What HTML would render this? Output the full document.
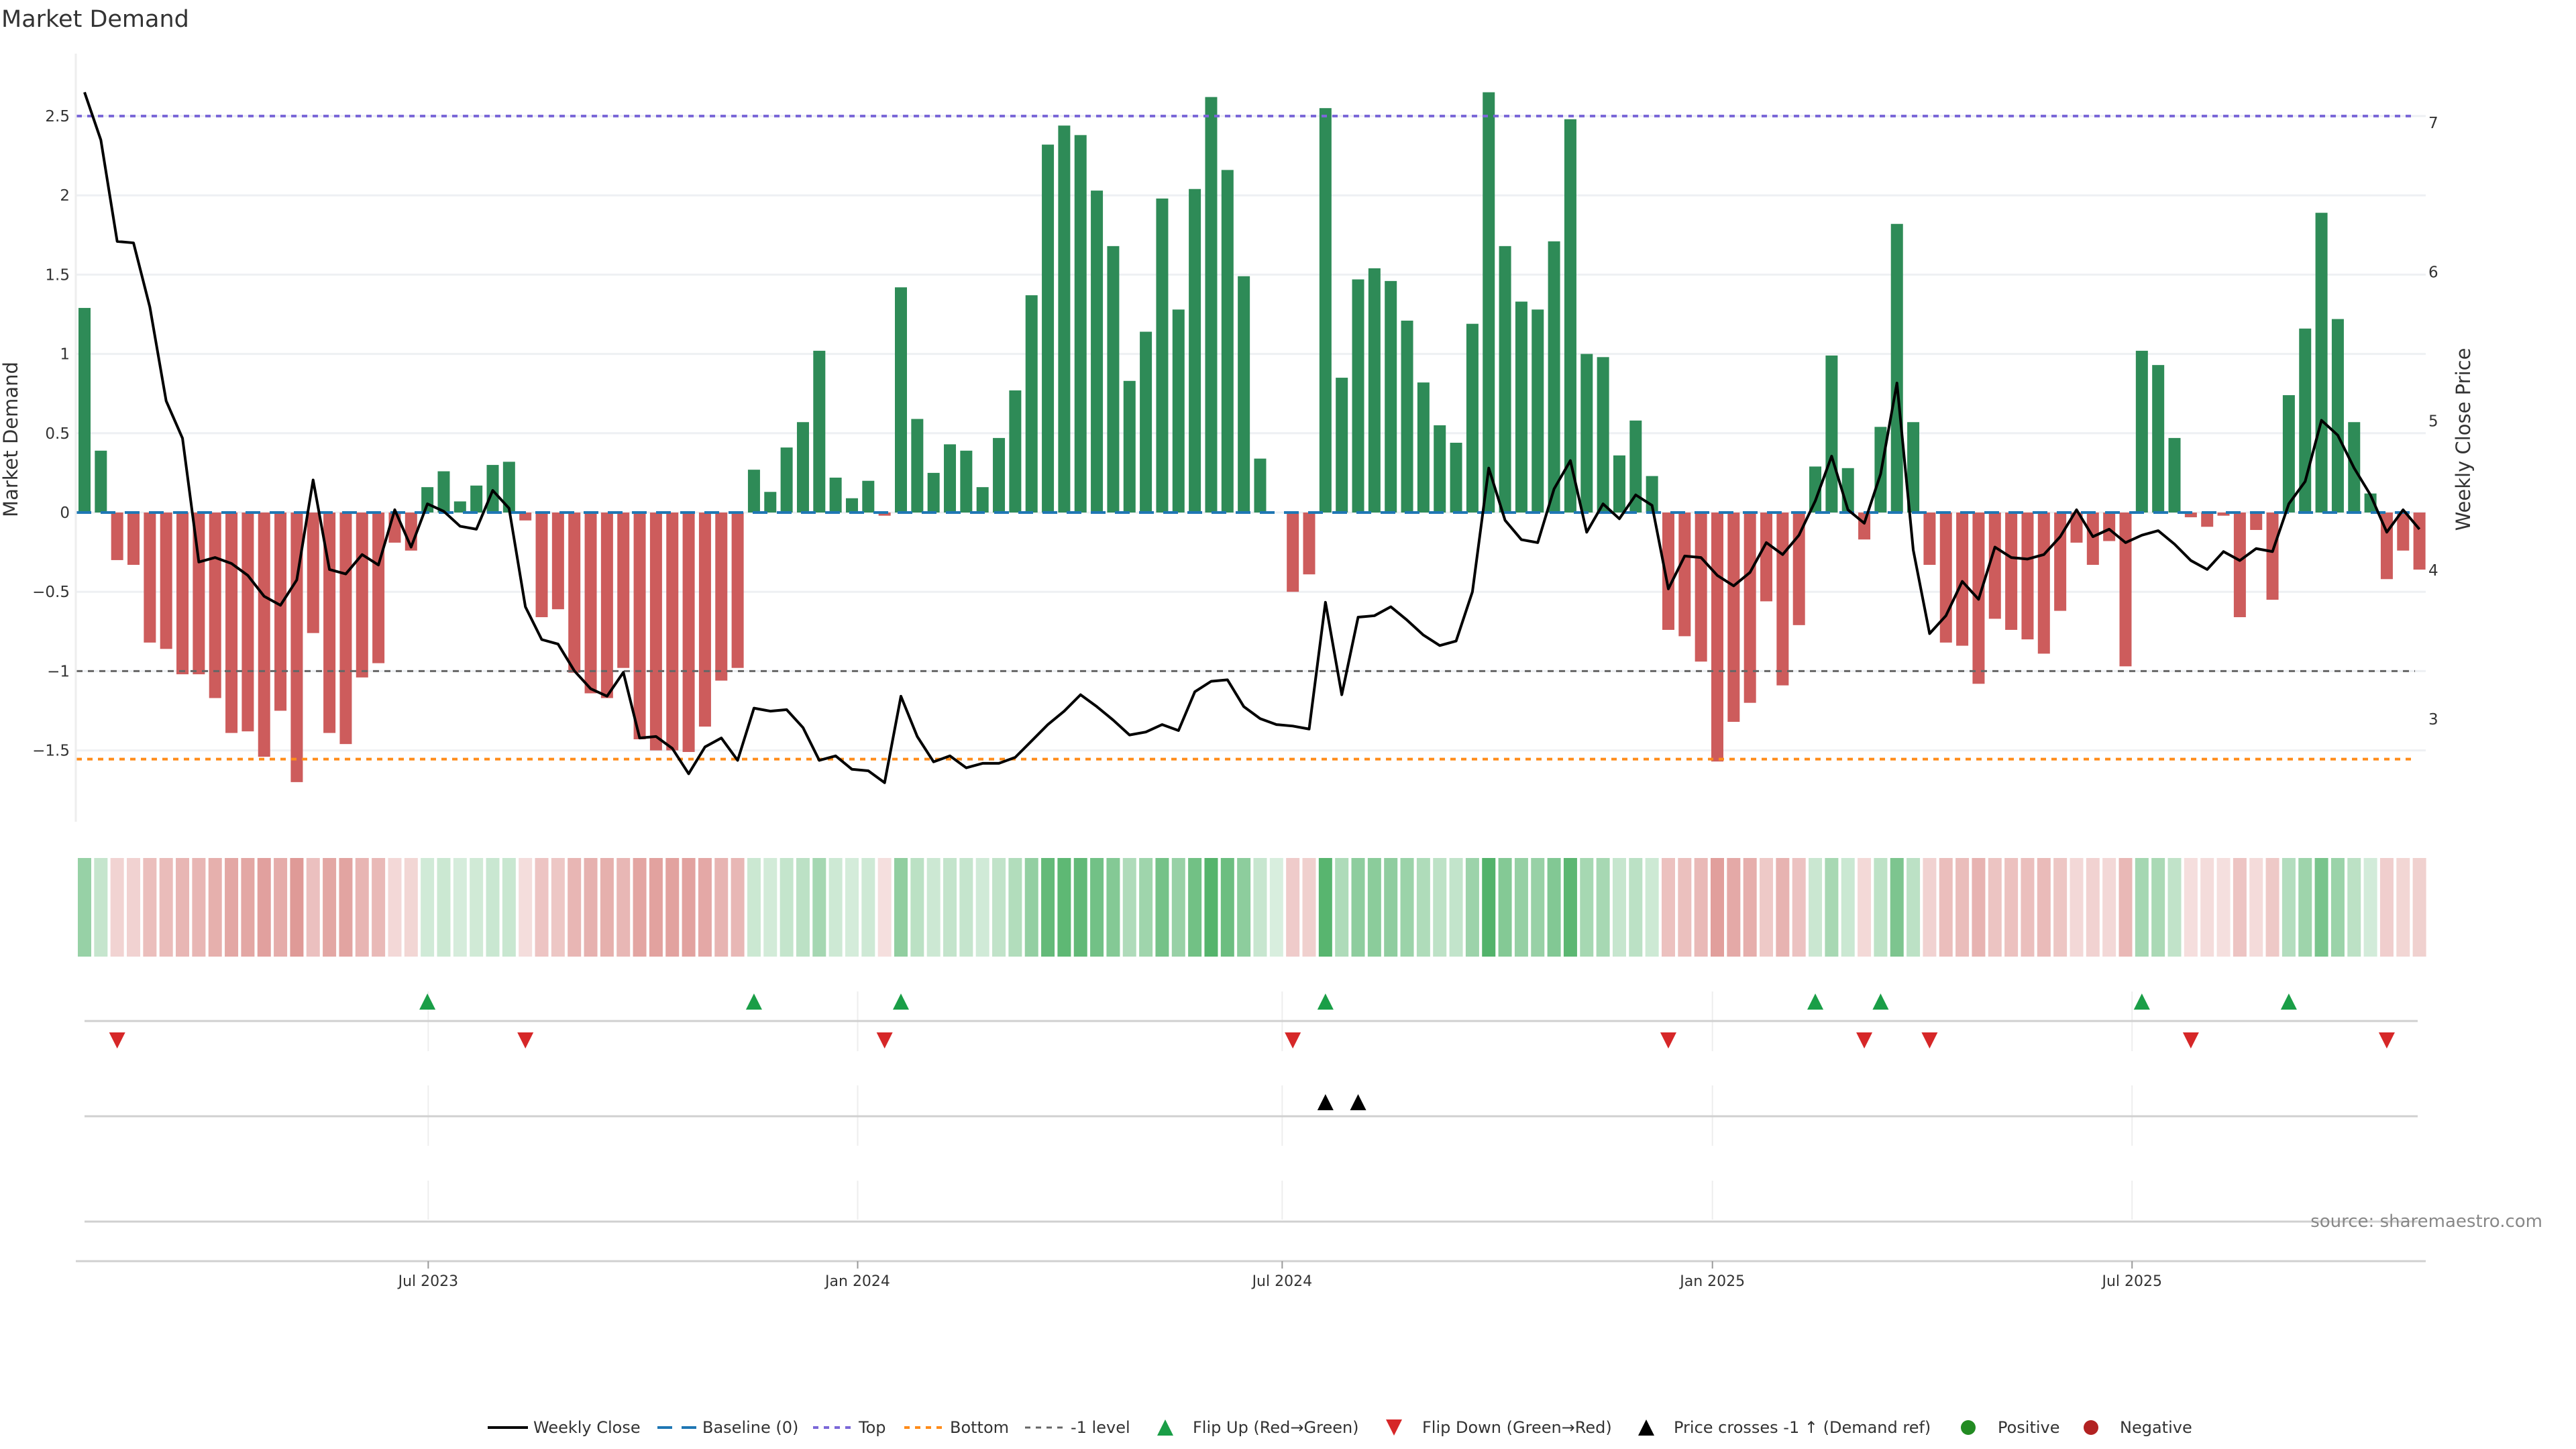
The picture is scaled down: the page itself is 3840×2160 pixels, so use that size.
<!DOCTYPE html>
<html><head><meta charset="utf-8">
<style>
html,body{margin:0;padding:0;background:#fff;}
svg{display:block;font-family:"DejaVu Sans","Liberation Sans",sans-serif;}
</style></head>
<body>
<svg id="chart" width="3840" height="2160" viewBox="0 0 3840 2160" xmlns="http://www.w3.org/2000/svg">
<text x="2" y="40" font-size="35" fill="#333">Market Demand</text>
<g id="grid"></g>
<g id="bars"></g>
<g id="lines"></g>
<g id="price"></g>
<g id="axes"></g>
<g id="heat"></g>
<g id="flips"></g>
<g id="cross"></g>
<g id="xaxis"></g>
<text x="3790" y="1829" font-size="26" fill="#888" text-anchor="end">source: sharemaestro.com</text>
<g id="legend"></g>
</svg>
<script>
const demand = [1.29,0.39,-0.30,-0.33,-0.82,-0.86,-1.02,-1.02,-1.17,-1.39,-1.38,-1.54,-1.25,-1.70,-0.76,-1.39,-1.46,-1.04,-0.95,-0.19,-0.24,0.16,0.26,0.07,0.17,0.30,0.32,-0.05,-0.66,-0.61,-1.01,-1.14,-1.17,-0.98,-1.43,-1.50,-1.50,-1.51,-1.35,-1.06,-0.98,0.27,0.13,0.41,0.57,1.02,0.22,0.09,0.20,-0.02,1.42,0.59,0.25,0.43,0.39,0.16,0.47,0.77,1.37,2.32,2.44,2.38,2.03,1.68,0.83,1.14,1.98,1.28,2.04,2.62,2.16,1.49,0.34,0.0,-0.50,-0.39,2.55,0.85,1.47,1.54,1.46,1.21,0.82,0.55,0.44,1.19,2.65,1.68,1.33,1.28,1.71,2.48,1.00,0.98,0.36,0.58,0.23,-0.74,-0.78,-0.94,-1.57,-1.32,-1.20,-0.56,-1.09,-0.71,0.29,0.99,0.28,-0.17,0.54,1.82,0.57,-0.33,-0.82,-0.84,-1.08,-0.67,-0.74,-0.80,-0.89,-0.62,-0.19,-0.33,-0.18,-0.97,1.02,0.93,0.47,-0.03,-0.09,-0.02,-0.66,-0.11,-0.55,0.74,1.16,1.89,1.22,0.57,0.12,-0.42,-0.24,-0.36];
const price = [7.20,6.88,6.20,6.19,5.76,5.13,4.88,4.05,4.08,4.04,3.96,3.82,3.76,3.93,4.60,4.00,3.97,4.10,4.03,4.40,4.15,4.44,4.39,4.29,4.27,4.53,4.41,3.75,3.53,3.50,3.32,3.20,3.15,3.31,2.87,2.88,2.80,2.63,2.81,2.87,2.72,3.07,3.05,3.06,2.94,2.72,2.75,2.66,2.65,2.57,3.15,2.88,2.71,2.75,2.67,2.70,2.70,2.74,2.85,2.96,3.05,3.16,3.08,2.99,2.89,2.91,2.96,2.92,3.18,3.25,3.26,3.08,3.00,2.96,2.95,2.93,3.78,3.16,3.68,3.69,3.75,3.66,3.56,3.49,3.52,3.85,4.68,4.33,4.20,4.18,4.54,4.73,4.25,4.44,4.34,4.50,4.43,3.87,4.09,4.08,3.96,3.89,3.98,4.18,4.10,4.23,4.46,4.76,4.40,4.31,4.64,5.25,4.13,3.57,3.69,3.92,3.80,4.15,4.08,4.07,4.10,4.22,4.40,4.22,4.27,4.18,4.23,4.26,4.17,4.06,4.00,4.12,4.06,4.14,4.12,4.44,4.59,5.00,4.90,4.68,4.50,4.25,4.40,4.27];
const yTicks = [2.5,2,1.5,1,0.5,0,-0.5,-1,-1.5];
const yTickLabels = ["2.5","2","1.5","1","0.5","0","\u22120.5","\u22121","\u22121.5"];
const priceTicks = [7,6,5,4,3];
const dateTickPos = [21.05,47.35,73.35,99.7,125.4];
const dateTickLabels = ["Jul 2023","Jan 2024","Jul 2024","Jan 2025","Jul 2025"];
const topLevel = 2.5, bottomLevel = -1.555, minusLevel = -1.0;

const NS="http://www.w3.org/2000/svg";
function mk(parent,tag,attrs){const e=document.createElementNS(NS,tag);for(const k in attrs)e.setAttribute(k,attrs[k]);parent.appendChild(e);return e;}
const X0=126, DX=24.34, BW=18;
const xAt=i=>X0+i*DX;
const yD=v=>764-v*236.4;
const yP=p=>182+(7-p)*222.3;
const L=113, TOP=80, BOT=1225;

const grid=document.getElementById('grid');
yTicks.forEach(v=>{const g=mk(grid,'line',{x1:L,x2:3616,y1:yD(v),y2:yD(v),stroke:'#eef0f3','stroke-width':3});
});

const bars=document.getElementById('bars');
demand.forEach((v,i)=>{const y0=yD(0),y1=yD(v);
const r=mk(bars,'rect',{x:xAt(i)-BW/2,y:Math.min(y0,y1),width:BW,height:Math.max(Math.abs(y1-y0),v===0?0:1.5),fill:v>=0?'#2e8b57':'#cd5c5c'});
});

const lines=document.getElementById('lines');
const lx1=xAt(0)-12, lx2=3600;
let e;
e=mk(lines,'line',{x1:lx1,x2:lx2,y1:yD(0),y2:yD(0),stroke:'#1f77b4','stroke-width':4,'stroke-dasharray':'22 14'});

e=mk(lines,'line',{x1:lx1,x2:lx2,y1:yD(topLevel),y2:yD(topLevel),stroke:'#7b68d8','stroke-width':4,'stroke-dasharray':'8 8'});

e=mk(lines,'line',{x1:lx1,x2:lx2,y1:yD(bottomLevel),y2:yD(bottomLevel),stroke:'#ff8c1a','stroke-width':4,'stroke-dasharray':'8 8'});

e=mk(lines,'line',{x1:lx1,x2:lx2,y1:yD(minusLevel),y2:yD(minusLevel),stroke:'#666','stroke-width':3,'stroke-dasharray':'9 8'});


const pl=document.getElementById('price');
e=mk(pl,'polyline',{points:price.map((p,i)=>xAt(i)+','+yP(p)).join(' '),fill:'none',stroke:'#000','stroke-width':4,'stroke-linejoin':'round'});


const ax=document.getElementById('axes');
e=mk(ax,'line',{x1:L,x2:L,y1:TOP,y2:BOT,stroke:'#eee','stroke-width':3});

yTicks.forEach((v,k)=>{const t=mk(ax,'text',{x:104,y:yD(v)+8,'font-size':23,fill:'#333','text-anchor':'end'});t.textContent=yTickLabels[k];
});
priceTicks.forEach(p=>{const t=mk(ax,'text',{x:3620,y:yP(p)+9,'font-size':23,fill:'#333'});t.textContent=String(p);
});
e=mk(ax,'text',{x:0,y:0,'font-size':29,fill:'#333','text-anchor':'middle',transform:'translate(26,655) rotate(-90)'});e.textContent='Market Demand';

e=mk(ax,'text',{x:0,y:0,'font-size':29,fill:'#333','text-anchor':'middle',transform:'translate(3682,655) rotate(-90)'});e.textContent='Weekly Close Price';


function heatColor(v){const t=Math.min(0.18+0.62*Math.abs(v)/2.65,0.85);
const c=v>=0?[40,160,70]:[200,80,75];
return 'rgb('+c.map(x=>Math.round(255-(255-x)*t)).join(',')+')';}
const heat=document.getElementById('heat');
demand.forEach((v,i)=>{const r=mk(heat,'rect',{x:xAt(i)-10,y:1279,width:20,height:147,fill:heatColor(v)});
});

const flips=document.getElementById('flips'), cross=document.getElementById('cross');
[[1478,1567],[1618,1708],[1760,1818]].forEach(([a,b])=>dateTickPos.forEach(p=>{const g=mk(flips,'line',{x1:xAt(p),x2:xAt(p),y1:a,y2:b,stroke:'#eeeeee','stroke-width':2});
}));
[1522,1664,1821].forEach(y=>{const g=mk(flips,'line',{x1:126,x2:3604,y1:y,y2:y,stroke:'#d0d0d0','stroke-width':3});
});
function tri(parent,x,y,up,color,name){const s=12;
const pts=up?[[x,y-s],[x-s,y+s],[x+s,y+s]]:[[x,y+s],[x-s,y-s],[x+s,y-s]];
const p=mk(parent,'polygon',{points:pts.map(q=>q.join(',')).join(' '),fill:color});
}
let prevSign=Math.sign(demand[0]);
for(let i=1;i<demand.length;i++){const s=Math.sign(demand[i]);if(s===0)continue;
if(s>0&&prevSign<0)tri(flips,xAt(i),1493,true,'#1a9e47','flip-up-marker');
if(s<0&&prevSign>0)tri(flips,xAt(i),1551,false,'#d62728','flip-down-marker');
prevSign=s;}
const crossPrice=7-(yD(minusLevel)-182)/222.3;
for(let i=1;i<price.length;i++){if(price[i-1]<crossPrice&&price[i]>=crossPrice&&demand[i]>0)tri(cross,xAt(i),1643,true,'#000','price-cross-marker');}

const xa=document.getElementById('xaxis');
e=mk(xa,'line',{x1:L,x2:3616,y1:1880,y2:1880,stroke:'#d0d0d0','stroke-width':3});

dateTickPos.forEach((p,k)=>{const t=mk(xa,'line',{x1:xAt(p),x2:xAt(p),y1:1880,y2:1891,stroke:'#999','stroke-width':2});

const l=mk(xa,'text',{x:xAt(p),y:1917,'font-size':22,fill:'#333','text-anchor':'middle'});l.textContent=dateTickLabels[k];
});

const lg=document.getElementById('legend');
const LY=2128;
function ltext(x,s){const t=mk(lg,'text',{x:x,y:LY+8,'font-size':24,fill:'#333'});t.textContent=s;
}
function lline(x,color,dash,w){const l=mk(lg,'line',{x1:x,x2:x+60,y1:LY,y2:LY,stroke:color,'stroke-width':w,'stroke-dasharray':dash});
}
lline(727,'#000','none',4);ltext(795,'Weekly Close');
lline(980,'#1f77b4','22 14',4);ltext(1047,'Baseline (0)');
lline(1212,'#7b68d8','8 8',4);ltext(1280,'Top');
lline(1348,'#ff8c1a','8 8',4);ltext(1416,'Bottom');
lline(1528,'#666','8 8',3);ltext(1596,'-1 level');
tri(lg,1737,LY,true,'#1a9e47','legend-flip-up');ltext(1778,'Flip Up (Red\u2192Green)');
tri(lg,2078,LY,false,'#d62728','legend-flip-down');ltext(2120,'Flip Down (Green\u2192Red)');
tri(lg,2454,LY,true,'#000','legend-price-cross');ltext(2495,'Price crosses -1 \u2191 (Demand ref)');
e=mk(lg,'circle',{cx:2934,cy:LY,r:11,fill:'#228b22'});ltext(2978,'Positive');
e=mk(lg,'circle',{cx:3117,cy:LY,r:11,fill:'#b22222'});ltext(3160,'Negative');
</script>
</body></html>
